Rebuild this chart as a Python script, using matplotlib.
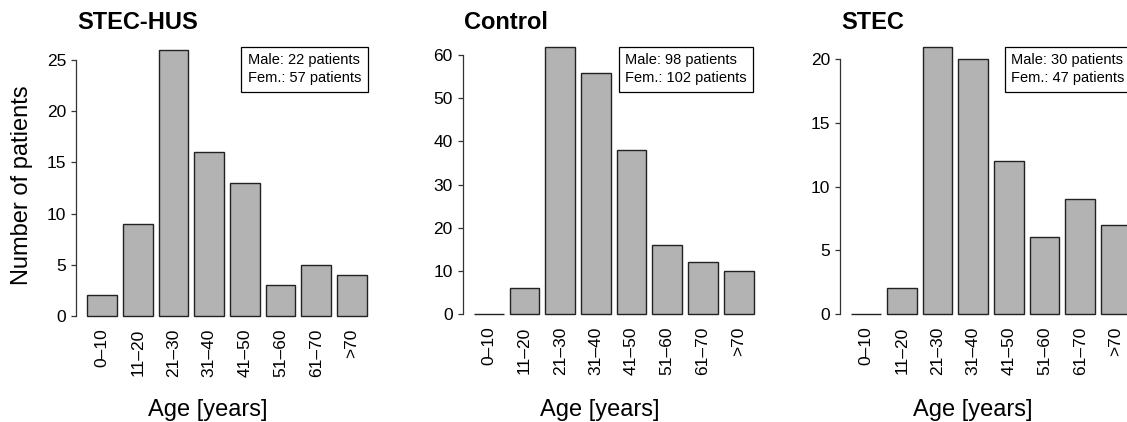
import matplotlib
matplotlib.use("Agg")
import matplotlib.pyplot as plt

plt.rcParams['font.family'] = ['Liberation Sans', 'DejaVu Sans']

# ---- data ----
age_groups = ["0–10", "11–20", "21–30", "31–40", "41–50", "51–60", "61–70", ">70"]
titles = ["STEC-HUS", "Control", "STEC"]
counts_stec_hus = [2, 9, 26, 16, 13, 3, 5, 4]
counts_control = [0, 6, 62, 56, 38, 16, 12, 10]
counts_stec = [0, 2, 21, 20, 12, 6, 9, 7]
male_counts = [22, 98, 30]
female_counts = [57, 102, 47]
y_ticks = [[0, 5, 10, 15, 20, 25], [0, 10, 20, 30, 40, 50, 60], [0, 5, 10, 15, 20]]

W, H = 1127, 422
fig = plt.figure(figsize=(W / 100, H / 100), dpi=100)


def fx(x):
    return x / W


def fy(y):
    return 1 - y / H


# plot regions in pixels: left, right, top, bottom
regions = [(76, 378, 39.1, 326.6), (462.7, 764.7, 36.0, 324.4), (840, 1142, 35.9, 324.4)]
legend_corner = [(367.7, 46.7), (753.3, 46.7), (1131.0, 46.7)]
xlabel_cx = [207.5, 600, 973]

all_counts = [counts_stec_hus, counts_control, counts_stec]
for i in range(3):
    l, r, t, b = regions[i]
    ax = fig.add_axes([fx(l), fy(b), (r - l) / W, (b - t) / H])
    vals = all_counts[i]
    xs = list(range(len(vals)))
    ax.bar(xs, vals, width=1 / 1.2, color='#b3b3b3', edgecolor='#222222', linewidth=1.0, zorder=2)
    m = max(vals)
    ax.set_ylim(-0.04 * m, 1.04 * m)
    ax.set_xlim(-0.73, len(vals) - 1 + 0.73)
    for s in ['top', 'right', 'bottom']:
        ax.spines[s].set_visible(False)
    ax.spines['left'].set_bounds(y_ticks[i][0], y_ticks[i][-1])
    ax.spines['left'].set_color('#333333')
    ax.spines['left'].set_linewidth(0.9)
    ax.set_yticks(y_ticks[i])
    ax.tick_params(axis='y', direction='out', length=3.6, width=0.9, color='#333333',
                   pad=3.6, labelsize=12.5)
    ax.set_xticks(xs)
    ax.set_xticklabels(age_groups, rotation=90, fontsize=12.5, va='top', ha='center')
    ax.tick_params(axis='x', length=0, pad=1.5)
    ax.patch.set_visible(False)

    # title
    fig.text(fx(l + 1), fy(29.3), titles[i], fontsize=17, fontweight='bold',
             ha='left', va='baseline')
    # x label
    fig.text(fx(xlabel_cx[i]), fy(416), "Age [years]", fontsize=17, ha='center', va='baseline')
    # legend box
    rx, ty = legend_corner[i]
    pad_px = 0.45 * 10.5 * 100 / 72
    fig.text(fx(rx - pad_px), fy(ty + pad_px),
             f"Male: {male_counts[i]} patients\nFem.: {female_counts[i]} patients",
             fontsize=10.5, ha='right', va='top', linespacing=1.37, multialignment='left',
             bbox=dict(boxstyle='square,pad=0.45', facecolor='white', edgecolor='black',
                       linewidth=0.9))

fig.text(fx(22), fy(185), "Number of patients", fontsize=17, rotation=90,
         ha='center', va='center')

fig.savefig("out.png", dpi=100)
